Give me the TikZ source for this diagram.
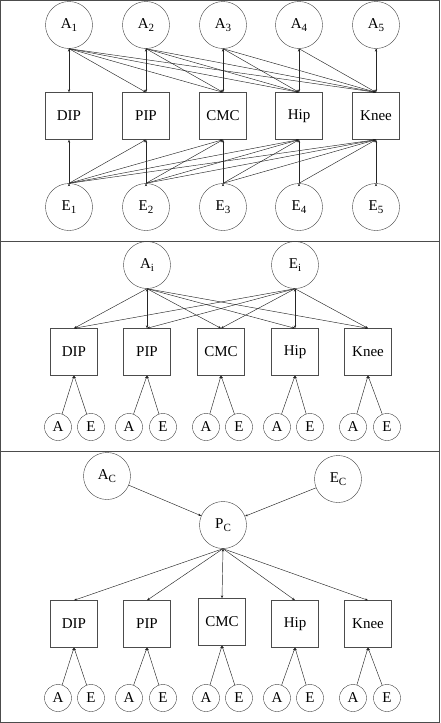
\documentclass[tikz,border=0pt]{standalone}
\usepackage{fontspec}
\setmainfont{Liberation Serif}
\usepackage{tikz}
\usetikzlibrary{arrows.meta}

\newcommand{\lo}[1]{\raisebox{-0.45ex}{\fontsize{11}{11}\selectfont #1}}

\begin{document}
\begin{tikzpicture}[x=1pt, y=-1pt,
    every node/.style={font=\fontsize{15}{18}\selectfont},
    latent/.style={circle, draw=black!75, inner sep=0pt, minimum size=47pt},
    joint/.style={rectangle, draw=black!70, inner sep=0pt, minimum size=47pt},
    res/.style={circle, draw=black!75, inner sep=0pt, minimum size=27pt},
    arr/.style={-{Stealth[length=3pt, width=2.4pt]}, draw=black!85, line width=0.45pt}]
    \useasboundingbox (0, 0) rectangle (440, 723);

    % frame and panel separators
    \draw[black!70, line width=1pt] (0.5, 0.5) rectangle (439.5, 722.5);
    \draw[black!70, line width=0.9pt] (0, 241) -- (440, 241);
    \draw[black!70, line width=0.9pt] (0, 451) -- (440, 451);

    % panel 1
    \node[latent] at (69, 25) (a1) {A\lo{1}};
    \node[latent] at (146, 25) (a2) {A\lo{2}};
    \node[latent] at (223, 25) (a3) {A\lo{3}};
    \node[latent] at (299, 25) (a4) {A\lo{4}};
    \node[latent] at (376, 25) (a5) {A\lo{5}};

    \node[joint] at (69, 116) (dip1) {DIP};
    \node[joint] at (146, 116) (pip1) {PIP};
    \node[joint] at (223, 116) (cmc1) {CMC};
    \node[joint] at (299, 116) (hip1) {Hip};
    \node[joint] at (376, 116) (knee1) {Knee};

    \node[latent] at (69, 207) (e1) {E\lo{1}};
    \node[latent] at (146, 207) (e2) {E\lo{2}};
    \node[latent] at (223, 207) (e3) {E\lo{3}};
    \node[latent] at (299, 207) (e4) {E\lo{4}};
    \node[latent] at (376, 207) (e5) {E\lo{5}};

    \draw[arr] (a1.south) edge (dip1.north) edge (pip1.north) edge (cmc1.north) edge (hip1.north) edge (knee1.north);
    \draw[arr] (a2.south) edge (pip1.north) edge (cmc1.north) edge (hip1.north) edge (knee1.north);
    \draw[arr] (a3.south) edge (cmc1.north) edge (hip1.north) edge (knee1.north);
    \draw[arr] (a4.south) edge (hip1.north) edge (knee1.north);
    \draw[arr] (a5.south) edge (knee1.north);

    \draw[arr] (e1.north) edge (dip1.south) edge (pip1.south) edge (cmc1.south) edge (hip1.south) edge (knee1.south);
    \draw[arr] (e2.north) edge (pip1.south) edge (cmc1.south) edge (hip1.south) edge (knee1.south);
    \draw[arr] (e3.north) edge (cmc1.south) edge (hip1.south) edge (knee1.south);
    \draw[arr] (e4.north) edge (hip1.south) edge (knee1.south);
    \draw[arr] (e5.north) edge (knee1.south);

    % panel 2
    \node[latent] at (147, 265) (ai) {A\lo{i}};
    \node[latent] at (295, 265) (ei) {E\lo{i}};

    \node[joint] at (74, 352) (dip2) {DIP};
    \node[joint] at (147, 352) (pip2) {PIP};
    \node[joint] at (221, 352) (cmc2) {CMC};
    \node[joint] at (295, 352) (hip2) {Hip};
    \node[joint] at (368, 352) (knee2) {Knee};

    \draw[arr] (ai.south) edge (dip2.north) edge (pip2.north) edge (cmc2.north) edge (hip2.north) edge (knee2.north);
    \draw[arr] (ei.south) edge (dip2.north) edge (pip2.north) edge (cmc2.north) edge (hip2.north) edge (knee2.north);

    \node[res] at (58, 427) (dipa2) {A};
    \node[res] at (91, 427) (dipe2) {E};
    \node[res] at (129, 427) (pipa2) {A};
    \node[res] at (163, 427) (pipe2) {E};
    \node[res] at (206, 427) (cmca2) {A};
    \node[res] at (239, 427) (cmce2) {E};
    \node[res] at (277, 427) (hipa2) {A};
    \node[res] at (310, 427) (hipe2) {E};
    \node[res] at (353, 427) (kneea2) {A};
    \node[res] at (387, 427) (kneee2) {E};

    \draw[arr] (dipa2) edge (dip2.south);
    \draw[arr] (dipe2) edge (dip2.south);
    \draw[arr] (pipa2) edge (pip2.south);
    \draw[arr] (pipe2) edge (pip2.south);
    \draw[arr] (cmca2) edge (cmc2.south);
    \draw[arr] (cmce2) edge (cmc2.south);
    \draw[arr] (hipa2) edge (hip2.south);
    \draw[arr] (hipe2) edge (hip2.south);
    \draw[arr] (kneea2) edge (knee2.south);
    \draw[arr] (kneee2) edge (knee2.south);

    % panel 3
    \node[latent] at (107, 476) (ac) {A\lo{C}};
    \node[latent] at (338, 479) (ec) {E\lo{C}};
    \node[latent] at (223, 525) (pc) {P\lo{C}};

    \draw[arr] (ac) edge (pc);
    \draw[arr] (ec) edge (pc);

    \node[joint] at (74, 624) (dip3) {DIP};
    \node[joint] at (147, 624) (pip3) {PIP};
    \node[joint] at (222, 622) (cmc3) {CMC};
    \node[joint] at (295, 624) (hip3) {Hip};
    \node[joint] at (368, 624) (knee3) {Knee};

    \draw[arr] (pc.south) edge (dip3.north) edge (pip3.north) edge (cmc3.north) edge (hip3.north) edge (knee3.north);

    \node[res] at (58, 698) (dipa3) {A};
    \node[res] at (91, 698) (dipe3) {E};
    \node[res] at (129, 698) (pipa3) {A};
    \node[res] at (163, 698) (pipe3) {E};
    \node[res] at (206, 698) (cmca3) {A};
    \node[res] at (239, 698) (cmce3) {E};
    \node[res] at (277, 698) (hipa3) {A};
    \node[res] at (310, 698) (hipe3) {E};
    \node[res] at (353, 698) (kneea3) {A};
    \node[res] at (387, 698) (kneee3) {E};

    \draw[arr] (dipa3) edge (dip3.south);
    \draw[arr] (dipe3) edge (dip3.south);
    \draw[arr] (pipa3) edge (pip3.south);
    \draw[arr] (pipe3) edge (pip3.south);
    \draw[arr] (cmca3) edge (cmc3.south);
    \draw[arr] (cmce3) edge (cmc3.south);
    \draw[arr] (hipa3) edge (hip3.south);
    \draw[arr] (hipe3) edge (hip3.south);
    \draw[arr] (kneea3) edge (knee3.south);
    \draw[arr] (kneee3) edge (knee3.south);
\end{tikzpicture}
\end{document}
